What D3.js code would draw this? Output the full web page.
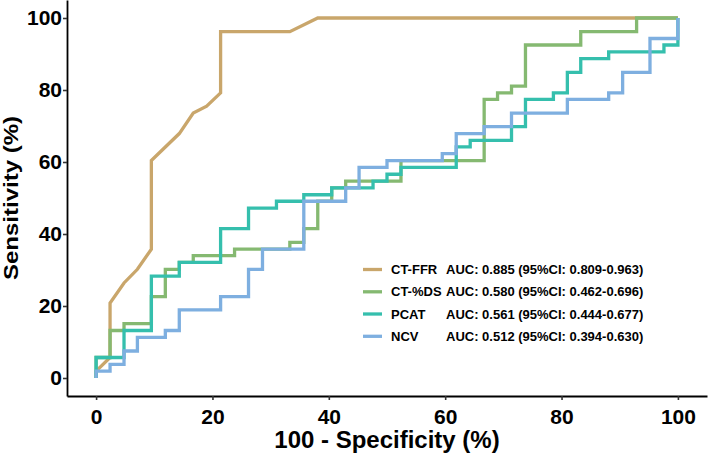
<!DOCTYPE html>
<html>
<head>
<meta charset="utf-8">
<script src="https://cdn.jsdelivr.net/npm/d3@7"></script>
<style>
html,body{margin:0;padding:0;background:#fff;}
svg{display:block;font-family:"Liberation Sans",Arial,sans-serif;}
</style>
</head>
<body>
<svg id="chart" width="708" height="456"></svg>
<script>
// ---- data (values in %) ----
const seriesNames = ["CT-FFR", "CT-%DS", "PCAT", "NCV"];
const aucLabels = [
  "AUC: 0.885 (95%CI: 0.809-0.963)",
  "AUC: 0.580 (95%CI: 0.462-0.696)",
  "AUC: 0.561 (95%CI: 0.444-0.677)",
  "AUC: 0.512 (95%CI: 0.394-0.630)"
];
const colors = ["#C9A66B", "#85B971", "#35BFAD", "#7EAFE0"];

// CT-FFR: ROC vertices (with tied steps)
const ffrFpr = [0, 0, 2.4, 2.4, 4.8, 7.1, 9.5, 9.5, 14.3, 16.7, 19.0, 21.4, 21.4, 33.3, 38.1, 100];
const ffrTpr = [0, 1.9, 5.7, 20.8, 26.4, 30.2, 35.8, 60.4, 67.9, 73.6, 75.5, 79.2, 96.2, 96.2, 100, 100];
// CT-%DS: step corners
const dsFpr = [0, 2.4, 4.8, 9.5, 11.9, 14.3, 16.7, 23.8, 33.3, 35.7, 38.1, 40.5, 42.9, 52.4, 66.7, 69.0, 71.4, 73.8, 83.3, 92.9, 100];
const dsTpr = [0, 5.7, 13.2, 15.1, 22.6, 30.2, 32.1, 34.0, 35.8, 37.7, 41.5, 49.1, 52.8, 54.7, 60.4, 77.4, 79.2, 81.1, 92.5, 96.2, 100];
// PCAT: step corners
const pcatFpr = [0, 4.8, 9.5, 14.3, 21.4, 26.2, 31.0, 35.7, 40.5, 47.6, 50.0, 52.4, 61.9, 64.3, 71.4, 73.8, 78.6, 81.0, 83.3, 88.1, 97.6, 100, 100];
const pcatTpr = [0, 5.7, 13.2, 28.3, 32.1, 41.5, 47.2, 49.1, 50.9, 52.8, 54.7, 56.6, 58.5, 64.2, 66.0, 69.8, 77.4, 79.2, 84.9, 88.7, 90.6, 92.5, 100];
// NCV: step corners
const ncvFpr = [0, 2.4, 4.8, 7.1, 11.9, 14.3, 21.4, 26.2, 28.6, 35.7, 42.9, 45.2, 50.0, 59.5, 61.9, 66.7, 71.4, 81.0, 88.1, 90.5, 95.2, 100, 100];
const ncvTpr = [0, 1.9, 3.8, 7.5, 11.3, 13.2, 18.9, 22.6, 30.2, 35.8, 49.1, 52.8, 58.5, 60.4, 62.3, 67.9, 69.8, 73.6, 77.4, 79.2, 84.9, 94.3, 100];

const tickValues = [0, 20, 40, 60, 80, 100];
const xTitle = "100 - Specificity (%)";
const yTitle = "Sensitivity (%)";

// ---- layout ----
const W = 708, H = 456;
const panel = {left: 67, right: 707, top: 0, bottom: 396};
const svg = d3.select("#chart");

const x = d3.scaleLinear().domain([-5, 105]).range([panel.left, panel.right]);
const y = d3.scaleLinear().domain([-5, 105]).range([panel.bottom, panel.top]);

const series = [
  {fpr: ffrFpr, tpr: ffrTpr, curve: d3.curveLinear},
  {fpr: dsFpr, tpr: dsTpr, curve: d3.curveStepBefore},
  {fpr: pcatFpr, tpr: pcatTpr, curve: d3.curveStepBefore},
  {fpr: ncvFpr, tpr: ncvTpr, curve: d3.curveStepBefore}
];

series.forEach((s, k) => {
  const pts = s.fpr.map((v, i) => [v, s.tpr[i]]);
  const line = d3.line().x(d => x(d[0])).y(d => y(d[1])).curve(s.curve);
  svg.append("path")
    .attr("d", line(pts))
    .attr("fill", "none")
    .attr("stroke", colors[k])
    .attr("stroke-width", 3.3)
    .attr("stroke-linejoin", "miter")
    .attr("stroke-linecap", "butt");
});

// axes
const xAxis = d3.axisBottom(x).tickValues(tickValues).tickSizeInner(4).tickSizeOuter(0).tickPadding(4);
const gx = svg.append("g").attr("transform", `translate(0,${panel.bottom})`).call(xAxis);
const yAxis = d3.axisLeft(y).tickValues(tickValues).tickSizeInner(4).tickSizeOuter(0).tickPadding(4);
const gy = svg.append("g").attr("transform", `translate(${panel.left},0)`).call(yAxis);

[gx, gy].forEach(g => {
  g.select(".domain").attr("stroke", "#000").attr("stroke-width", 1.8);
  g.selectAll(".tick line").attr("stroke", "#333").attr("stroke-width", 1.6);
  g.selectAll(".tick text")
    .attr("fill", "#000")
    .style("font-family", "'Liberation Sans', Arial, sans-serif")
    .style("font-weight", "bold")
    .style("font-size", "21px");
});
gx.selectAll(".tick text").attr("y", 13).attr("dy", "0.72em");
gy.selectAll(".tick text").attr("x", -5);

// titles
svg.append("text")
  .attr("x", (panel.left + panel.right) / 2)
  .attr("y", 448)
  .attr("text-anchor", "middle")
  .style("font-weight", "bold")
  .style("font-size", "24px")
  .text(xTitle);

svg.append("text")
  .attr("transform", `translate(17.5,${(panel.top + panel.bottom) / 2}) rotate(-90) scale(1,0.82)`)
  .attr("text-anchor", "middle")
  .style("font-weight", "bold")
  .style("font-size", "24px")
  .text(yTitle);

// legend
const legRows = [269.5, 291.8, 314, 336.3];
const leg = svg.append("g");
seriesNames.forEach((name, k) => {
  const ry = legRows[k];
  leg.append("line")
    .attr("x1", 363).attr("x2", 382)
    .attr("y1", ry).attr("y2", ry)
    .attr("stroke", colors[k]).attr("stroke-width", 3.3);
  leg.append("text")
    .attr("x", 391).attr("y", ry).attr("dy", "0.36em")
    .style("font-weight", "bold").style("font-size", "13px")
    .text(name);
  leg.append("text")
    .attr("x", 446).attr("y", ry).attr("dy", "0.36em")
    .style("font-weight", "bold").style("font-size", "13px")
    .text(aucLabels[k]);
});
</script>
</body>
</html>
